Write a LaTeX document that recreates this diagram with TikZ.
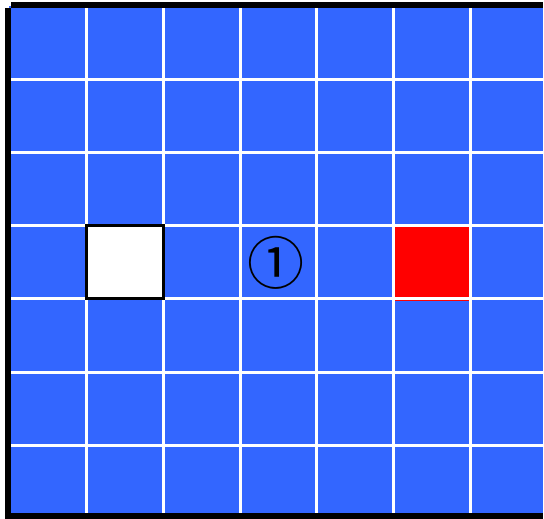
\documentclass[tikz,border=0pt]{standalone}
\usepackage{fontspec}
\newfontfamily\symfont{Noto Sans CJK SC}
\definecolor{cellblue}{RGB}{51,102,255}
\definecolor{cellred}{RGB}{255,0,0}
\begin{document}
\begin{tikzpicture}[x=1pt,y=-1pt,
  gridline/.style={draw=white,line width=3pt},
  framebar/.style={fill=black},
  markcell/.style={draw=black,line width=3pt,fill=white}]
\useasboundingbox (0,0) rectangle (544,519);
\fill[white] (0,0) rectangle (544,519);
% blue board
\fill[cellblue] (9,6) rectangle (543,519);
% red cell (drawn under grid lines)
\fill[cellred] (393.7,225.6) rectangle (470.5,301);
% white grid lines
\foreach \i in {1,...,6} {
  \draw[gridline] ({9.7+76.8*\i},6) -- ({9.7+76.8*\i},519);
  \draw[gridline] (9,{6.3+73.16*\i}) -- (543,{6.3+73.16*\i});
}
% white marked cell
\draw[markcell] (86.5,225.6) rectangle (163.3,298.8);
% label
\node[inner sep=0pt] (lbl) at (276,263) {\symfont\fontsize{57}{57}\selectfont ①};
% frame bars
\fill[framebar] (5,8) rectangle (11,519);
\fill[framebar] (11,2) rectangle (543,8);
\fill[framebar] (5,513) rectangle (543,519);
\end{tikzpicture}
\end{document}
